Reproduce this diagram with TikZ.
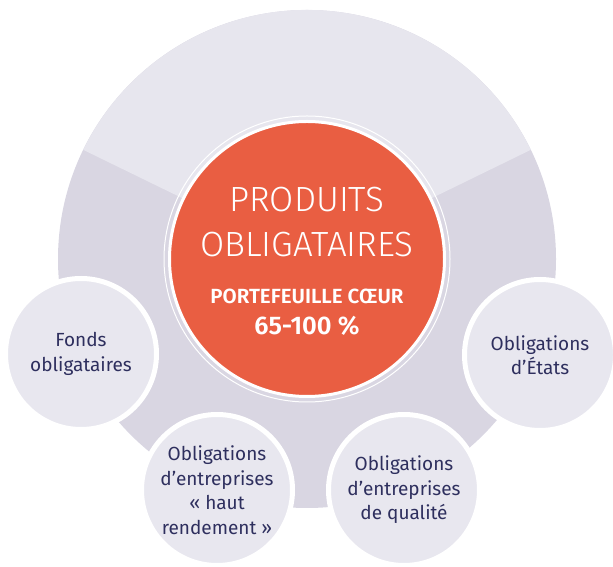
\documentclass[tikz,border=0pt]{standalone}
\usepackage{fontspec}
\setmainfont{Fira Sans}
\newfontfamily\thinfont{Fira Sans Light}
\newfontfamily\semifont{Fira Sans SemiBold}
\definecolor{rouge}{HTML}{E95E42}
\definecolor{encre}{HTML}{2E2F5E}
\definecolor{fondhaut}{HTML}{E7E6EE}
\definecolor{fondbas}{HTML}{D9D6E2}
\definecolor{pale}{HTML}{E8E7EF}
\begin{document}
\begin{tikzpicture}[x=1pt,y=1pt,
  bulle/.style={circle,fill=pale,draw=white,line width=5pt,minimum size=151pt,
    inner sep=0pt,align=center,text=encre,font=\fontsize{19}{24.5}\selectfont},
  blanc/.style={anchor=base,text=white,inner sep=0pt}]
\useasboundingbox (0,0) rectangle (613,567);
\coordinate (c) at (307,308);
% grand disque, secteur du haut plus clair
\fill[fondbas] (c) circle (249pt);
\fill[fondhaut] (c) -- ++(26:249pt) arc (26:154:249pt) -- cycle;
\draw[white,line width=1pt] (c) circle (143pt);
\node[circle,fill=rouge,draw=white,line width=3pt,minimum size=275pt] (coeur) at (c) {};
\node[blanc,font=\thinfont\fontsize{35}{42}\selectfont] (produits) at (307,355) {PRODUITS};
\node[blanc,font=\thinfont\fontsize{35}{42}\selectfont] (oblig) at (307,310) {OBLIGATAIRES};
\node[blanc,font=\semifont\fontsize{20.5}{24}\selectfont] (portef) at (307,263) {PORTEFEUILLE CŒUR};
\node[blanc,font=\semifont\fontsize{25.5}{30}\selectfont] (part) at (307,232) {65-100 \%};
% les quatre bulles
\node[bulle] (fonds) at (81,213) {Fonds\\obligataires};
\node[bulle] (etats) at (540,212) {Obligations\\d’États};
\node[bulle] (haut) at (217,77) {Obligations\\d’entreprises\\« haut\\rendement »};
\node[bulle] (qualite) at (404,77) {Obligations\\d’entreprises\\de qualité};
\end{tikzpicture}
\end{document}
